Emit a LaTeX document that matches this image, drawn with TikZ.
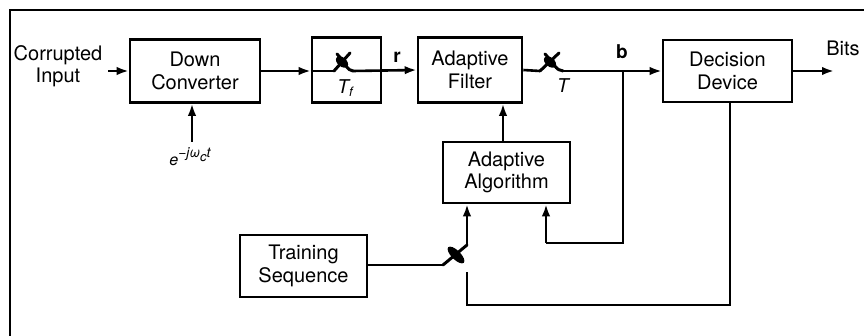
\documentclass[tikz,border=0pt]{standalone}
\usepackage{fontspec}
\setmainfont{TeX Gyre Heros}
\usetikzlibrary{arrows.meta,calc}
\tikzset{
  blk/.style={draw, line width=2.6pt, align=center, inner sep=0pt, font=\fontsize{20}{22.5}\selectfont},
  wire/.style={line width=2.6pt},
  arr/.style={line width=2.6pt, -{Latex[length=12pt,width=8.5pt]}},
  blade/.style={line width=3pt, line cap=round},
  lbl/.style={inner sep=0pt, font=\fontsize{20}{22.5}\selectfont, align=center},
  frame/.style={line width=1.4pt}
}
\begin{document}
\begin{tikzpicture}[x=1pt,y=-1pt]
\useasboundingbox (0,0) rectangle (864,336);
\draw[frame] (10,336) -- (10,10) -- (864,10);

% blocks
\node[blk, minimum width=130pt, minimum height=63pt] (dc) at (195,71) {Down\\Converter};
\node[draw, line width=2.6pt, minimum width=69pt, minimum height=65pt, inner sep=0pt] (tf) at (346.5,70) {};
\node[blk, minimum width=104pt, minimum height=65pt] (af) at (470,70) {Adaptive\\Filter};
\node[blk, minimum width=129pt, minimum height=62pt] (dd) at (727.5,71) {Decision\\Device};
\node[blk, minimum width=127pt, minimum height=61pt] (aa) at (506.5,172.5) {Adaptive\\Algorithm};
\node[blk, minimum width=127pt, minimum height=62pt] (ts) at (303.5,266) {Training\\Sequence};

% labels
\node[lbl] (cin) at (58,66) {Corrupted\\Input};
\node[lbl, font=\fontsize{19}{20}\selectfont\bfseries] (rl) at (397,57) {r};
\node[lbl, font=\fontsize{19}{20}\selectfont\bfseries] (bl) at (622,52) {b};
\node[lbl] (bits) at (843,48) {Bits};
\node[lbl, font=\fontsize{19}{20}\selectfont\itshape] (tl) at (563,86) {T};
\node[lbl, font=\fontsize{19}{20}\selectfont\itshape] (tfl) at (345,88) {T\raisebox{-0.35ex}{\fontsize{13}{13}\selectfont f}};
\node[lbl, font=\fontsize{16}{17}\selectfont\itshape] (osc) at (190,157) {e\raisebox{0.95ex}{\fontsize{14}{14}\selectfont −jω\raisebox{-0.45ex}{\fontsize{13}{13}\selectfont c}t}};

% coordinates
\coordinate (inS) at (108,71);
\coordinate (s1L) at (334,71);
\coordinate (s1R) at (353,71);
\coordinate (s2L) at (540,71);
\coordinate (s2R) at (563,71);
\coordinate (bj) at (623,71);
\coordinate (bend) at (834,71);
\coordinate (fb1) at (623,243);
\coordinate (fb2) at (546,243);
\coordinate (s3L) at (443,265);
\coordinate (s3U) at (467,245);
\coordinate (s3D) at (467,272);
\coordinate (fd1) at (730,305);
\coordinate (fd2) at (467,305);
\coordinate (oscT) at (192,142);

% input
\draw[arr] (inS) -- (dc.west);
\draw[arr] (oscT) -- (dc.south -| oscT);
\draw[arr] (dc.east) -- (tf.west |- dc.east);
\draw[wire] (tf.west |- dc.east) -- (s1L);

% sampler Tf
\draw[blade] (s1L) -- (350,53);
\draw[blade] (337,54) .. controls (345,62) and (347,71) .. (s1R);
\fill[rotate around={-40:(342,62)}] (342,62) ellipse (7pt and 4.5pt);
\draw[arr] (s1R) -- (af.west);

% sampler T
\draw[wire] (af.east) -- (s2L);
\draw[blade] (s2L) -- (559,53);
\draw[blade] (545,54) .. controls (553,62) and (556,71) .. (s2R);
\fill[rotate around={-40:(550,62)}] (550,62) ellipse (7pt and 4.5pt);
\draw[arr] (s2R) -- (dd.west);
\draw[arr] (dd.east) -- (bend);

% algorithm to filter
\draw[arr] ([xshift=-3.5pt]aa.north) -- ([xshift=-3.5pt]aa.north |- af.south);

% feedback from b
\draw[wire] (bj) -- (fb1) -- (fb2);
\draw[arr] (fb2) -- (aa.south -| fb2);

% training sampler
\draw[wire] (ts.east |- s3L) -- (s3L);
\draw[blade] (s3L) -- (s3U);
\draw[arr] (s3U) -- (aa.south -| s3U);
\fill[rotate around={-45:(456,255)}] (456,255) ellipse (11pt and 4.5pt);
\draw[wire] (dd.south -| fd1) -- (fd1) -- (fd2) -- (s3D);
\end{tikzpicture}
\end{document}
